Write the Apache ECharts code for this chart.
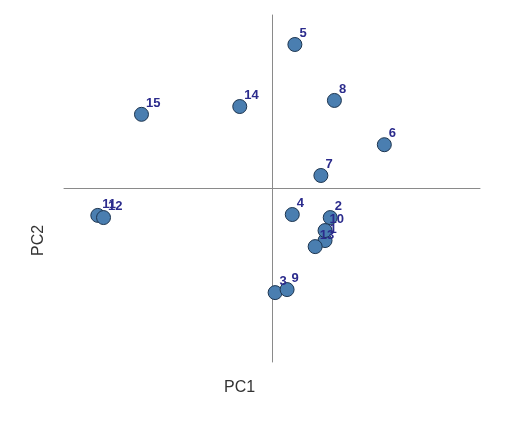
<!DOCTYPE html>
<html>
<head>
<meta charset="utf-8">
<script src="https://cdn.jsdelivr.net/npm/echarts@6/dist/echarts.min.js"></script>
<style>
  html, body { margin: 0; padding: 0; background: #fff; }
  #chartDiv { width: 506px; height: 422px; }
</style>
</head>
<body>
<div id="chartDiv"></div>
<script>
// PCA scores
var names = ["1", "2", "3", "4", "5", "6", "7", "8", "9", "10", "11", "12", "13", "14", "15"];
var pc1 = [1.02, 1.12, 0.06, 0.39, 0.44, 2.16, 0.94, 1.20, 0.29, 1.02, -3.35, -3.24, 0.83, -0.62, -2.51];
var pc2 = [-1.20, -0.67, -2.40, -0.60, 3.32, 1.01, 0.30, 2.03, -2.33, -0.97, -0.62, -0.67, -1.34, 1.89, 1.71];

var myChart = echarts.init(document.getElementById("chartDiv"));

var pts = [];
for (var i = 0; i < names.length; i++) {
  pts.push({ value: [pc1[i], pc2[i]], name: names[i] });
}

var axisStyle = {
  min: -4,
  max: 4,
  axisLine: { onZero: true, lineStyle: { color: "#8a8a8a", width: 1 } },
  axisTick: { show: false },
  axisLabel: { show: false },
  splitLine: { show: false }
};

var option = {
  backgroundColor: "#fff",
  animation: false,
  grid: { left: 64, right: 26, top: 15, bottom: 60 },
  xAxis: Object.assign({ type: "value" }, axisStyle),
  yAxis: Object.assign({ type: "value" }, axisStyle),
  graphic: [
    {
      type: "text", left: 224, top: 380,
      style: { text: "PC1", font: "16px 'Liberation Sans', Arial", fill: "#333" }
    },
    {
      type: "text", x: 31, y: 256, rotation: Math.PI / 2,
      style: { text: "PC2", font: "16px 'Liberation Sans', Arial", fill: "#333" }
    }
  ],
  series: [
    {
      type: "scatter",
      data: pts,
      symbolSize: 14,
      itemStyle: { color: "#4a7eb0", borderColor: "#1d3550", borderWidth: 1, opacity: 1 },
      label: {
        show: true,
        formatter: "{b}",
        position: [12, -10],
        color: "#2b2b8c",
        fontWeight: "bold",
        fontSize: 13,
        fontFamily: "'Liberation Sans', Arial"
      },
      labelLayout: { hideOverlap: false }
    }
  ]
};

myChart.setOption(option);
</script>
</body>
</html>
